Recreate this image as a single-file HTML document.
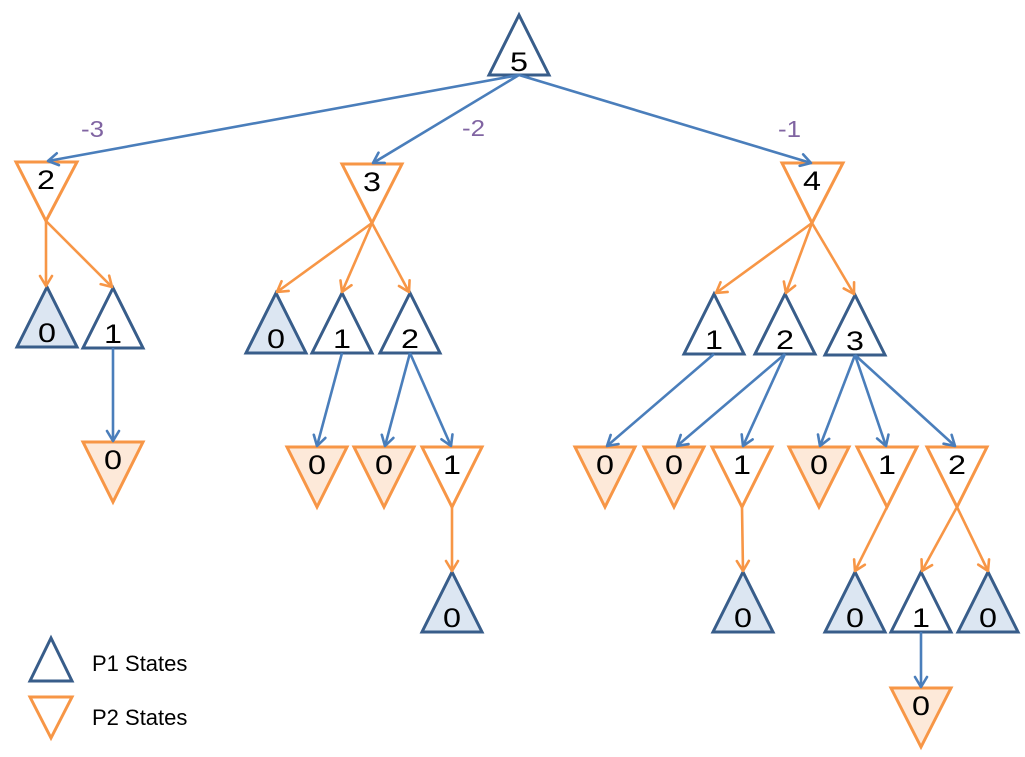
<!DOCTYPE html>
<html>
<head>
<meta charset="utf-8">
<style>
  html,body{margin:0;padding:0;background:#fff;}
  svg{display:block;}
  .lbl{font-family:"Liberation Sans",sans-serif;font-size:27px;fill:#000;text-anchor:middle;}
  .w{font-family:"Liberation Sans",sans-serif;font-size:23px;fill:#8064A2;}
  .lg{font-family:"Liberation Sans",sans-serif;font-size:22px;fill:#000;}
  .p1{stroke:#385D8A;stroke-width:3;fill:#fff;stroke-linejoin:miter;}
  .p1f{stroke:#385D8A;stroke-width:3;fill:#DCE6F2;}
  .p2{stroke:#F79646;stroke-width:3;fill:#fff;}
  .p2f{stroke:#F79646;stroke-width:3;fill:#FDE9D9;}
  .eb{stroke:#4A7EBB;stroke-width:2.6;fill:none;marker-end:url(#ab);}
  .eo{stroke:#F79646;stroke-width:2.6;fill:none;marker-end:url(#ao);}
</style>
</head>
<body>
<svg width="1025" height="757" viewBox="0 0 1025 757" xmlns="http://www.w3.org/2000/svg">
<defs>
  <marker id="ab" markerUnits="userSpaceOnUse" markerWidth="24" markerHeight="24" refX="12" refY="12" orient="auto" viewBox="0 0 24 24">
    <path d="M2,6 L12,12 L2,18" fill="none" stroke="#4A7EBB" stroke-width="2.6" stroke-linecap="round" stroke-linejoin="round"/>
  </marker>
  <marker id="ao" markerUnits="userSpaceOnUse" markerWidth="24" markerHeight="24" refX="12" refY="12" orient="auto" viewBox="0 0 24 24">
    <path d="M2,6 L12,12 L2,18" fill="none" stroke="#F79646" stroke-width="2.6" stroke-linecap="round" stroke-linejoin="round"/>
  </marker>
</defs>

<!-- P1 triangles (up) -->
<polygon class="p1"  points="519,15 489,75 549,75"/>
<polygon class="p1f" points="47,287 17,347 77,347"/>
<polygon class="p1"  points="113,288 83,348 143,348"/>
<polygon class="p1f" points="276,293 246,353 306,353"/>
<polygon class="p1"  points="342,293 312,353 372,353"/>
<polygon class="p1"  points="410,293 380,353 440,353"/>
<polygon class="p1f" points="452,572 422,632 482,632"/>
<polygon class="p1"  points="714,294 684,354 744,354"/>
<polygon class="p1"  points="785,294 755,354 815,354"/>
<polygon class="p1"  points="855,295 825,355 885,355"/>
<polygon class="p1f" points="743,572 713,632 773,632"/>
<polygon class="p1f" points="855,572 825,632 885,632"/>
<polygon class="p1"  points="921,572 891,632 951,632"/>
<polygon class="p1f" points="988,572 958,632 1018,632"/>

<!-- P2 triangles (down) -->
<polygon class="p2"  points="16,162 77,162 46,221"/>
<polygon class="p2"  points="342,164 402,164 372,223"/>
<polygon class="p2"  points="782,163 843,163 812,223"/>
<polygon class="p2f" points="83,442 143,442 113,502"/>
<polygon class="p2f" points="287,447 347,447 317,507"/>
<polygon class="p2f" points="354,447 414,447 384,507"/>
<polygon class="p2"  points="422,447 482,447 452,507"/>
<polygon class="p2f" points="575,447 635,447 605,507"/>
<polygon class="p2f" points="644,447 704,447 674,507"/>
<polygon class="p2"  points="712,447 772,447 742,507"/>
<polygon class="p2f" points="789,447 849,447 819,507"/>
<polygon class="p2"  points="857,447 917,447 887,507"/>
<polygon class="p2"  points="927,447 987,447 957,507"/>
<polygon class="p2f" points="891,688 951,688 921,747"/>

<!-- Blue edges -->
<line class="eb" x1="519" y1="75" x2="48" y2="161"/>
<line class="eb" x1="519" y1="75" x2="373" y2="163"/>
<line class="eb" x1="519" y1="75" x2="811" y2="163"/>
<line class="eb" x1="113" y1="348" x2="113" y2="441"/>
<line class="eb" x1="342" y1="353" x2="317" y2="446"/>
<line class="eb" x1="410" y1="353" x2="385" y2="446"/>
<line class="eb" x1="410" y1="353" x2="451" y2="446"/>
<line class="eb" x1="714" y1="354" x2="607" y2="446"/>
<line class="eb" x1="785" y1="354" x2="677" y2="446"/>
<line class="eb" x1="785" y1="354" x2="743" y2="446"/>
<line class="eb" x1="855" y1="355" x2="820" y2="446"/>
<line class="eb" x1="855" y1="355" x2="886" y2="446"/>
<line class="eb" x1="855" y1="355" x2="955" y2="446"/>
<line class="eb" x1="921" y1="632" x2="921" y2="687"/>

<!-- Orange edges -->
<line class="eo" x1="46" y1="221" x2="46" y2="286"/>
<line class="eo" x1="46" y1="221" x2="112" y2="287"/>
<line class="eo" x1="372" y1="223" x2="277" y2="292"/>
<line class="eo" x1="372" y1="223" x2="342" y2="292"/>
<line class="eo" x1="372" y1="223" x2="409" y2="292"/>
<line class="eo" x1="452" y1="507" x2="452" y2="571"/>
<line class="eo" x1="812" y1="223" x2="716" y2="293"/>
<line class="eo" x1="812" y1="223" x2="786" y2="293"/>
<line class="eo" x1="812" y1="223" x2="854" y2="294"/>
<line class="eo" x1="742" y1="507" x2="743" y2="571"/>
<line class="eo" x1="887" y1="507" x2="855" y2="571"/>
<line class="eo" x1="957" y1="507" x2="922" y2="571"/>
<line class="eo" x1="957" y1="507" x2="988" y2="571"/>

<!-- Edge weights -->
<text class="w" x="81" y="137" textLength="23" lengthAdjust="spacingAndGlyphs">-3</text>
<text class="w" x="462" y="136" textLength="23" lengthAdjust="spacingAndGlyphs">-2</text>
<text class="w" x="778" y="137" textLength="23" lengthAdjust="spacingAndGlyphs">-1</text>

<!-- P1 labels -->
<text class="lbl" x="519" y="71" textLength="18" lengthAdjust="spacingAndGlyphs">5</text>
<text class="lbl" x="47" y="342" textLength="18" lengthAdjust="spacingAndGlyphs">0</text>
<text class="lbl" x="113" y="343" textLength="18" lengthAdjust="spacingAndGlyphs">1</text>
<text class="lbl" x="276" y="348" textLength="18" lengthAdjust="spacingAndGlyphs">0</text>
<text class="lbl" x="342" y="348" textLength="18" lengthAdjust="spacingAndGlyphs">1</text>
<text class="lbl" x="410" y="348" textLength="18" lengthAdjust="spacingAndGlyphs">2</text>
<text class="lbl" x="452" y="627" textLength="18" lengthAdjust="spacingAndGlyphs">0</text>
<text class="lbl" x="714" y="349" textLength="18" lengthAdjust="spacingAndGlyphs">1</text>
<text class="lbl" x="785" y="349" textLength="18" lengthAdjust="spacingAndGlyphs">2</text>
<text class="lbl" x="855" y="350" textLength="18" lengthAdjust="spacingAndGlyphs">3</text>
<text class="lbl" x="743" y="627" textLength="18" lengthAdjust="spacingAndGlyphs">0</text>
<text class="lbl" x="855" y="627" textLength="18" lengthAdjust="spacingAndGlyphs">0</text>
<text class="lbl" x="921" y="627" textLength="18" lengthAdjust="spacingAndGlyphs">1</text>
<text class="lbl" x="988" y="627" textLength="18" lengthAdjust="spacingAndGlyphs">0</text>

<!-- P2 labels -->
<text class="lbl" x="46" y="189" textLength="18" lengthAdjust="spacingAndGlyphs">2</text>
<text class="lbl" x="372" y="191" textLength="18" lengthAdjust="spacingAndGlyphs">3</text>
<text class="lbl" x="812" y="190" textLength="18" lengthAdjust="spacingAndGlyphs">4</text>
<text class="lbl" x="113" y="469" textLength="18" lengthAdjust="spacingAndGlyphs">0</text>
<text class="lbl" x="317" y="474" textLength="18" lengthAdjust="spacingAndGlyphs">0</text>
<text class="lbl" x="384" y="474" textLength="18" lengthAdjust="spacingAndGlyphs">0</text>
<text class="lbl" x="452" y="474" textLength="18" lengthAdjust="spacingAndGlyphs">1</text>
<text class="lbl" x="605" y="474" textLength="18" lengthAdjust="spacingAndGlyphs">0</text>
<text class="lbl" x="674" y="474" textLength="18" lengthAdjust="spacingAndGlyphs">0</text>
<text class="lbl" x="742" y="474" textLength="18" lengthAdjust="spacingAndGlyphs">1</text>
<text class="lbl" x="819" y="474" textLength="18" lengthAdjust="spacingAndGlyphs">0</text>
<text class="lbl" x="887" y="474" textLength="18" lengthAdjust="spacingAndGlyphs">1</text>
<text class="lbl" x="957" y="474" textLength="18" lengthAdjust="spacingAndGlyphs">2</text>
<text class="lbl" x="921" y="715" textLength="18" lengthAdjust="spacingAndGlyphs">0</text>

<!-- Legend -->
<polygon class="p1" points="51,638 30,681 72,681"/>
<polygon class="p2" points="30,697 72,697 51,738"/>
<text class="lg" x="92" y="671">P1 States</text>
<text class="lg" x="92" y="725">P2 States</text>
</svg>
</body>
</html>
